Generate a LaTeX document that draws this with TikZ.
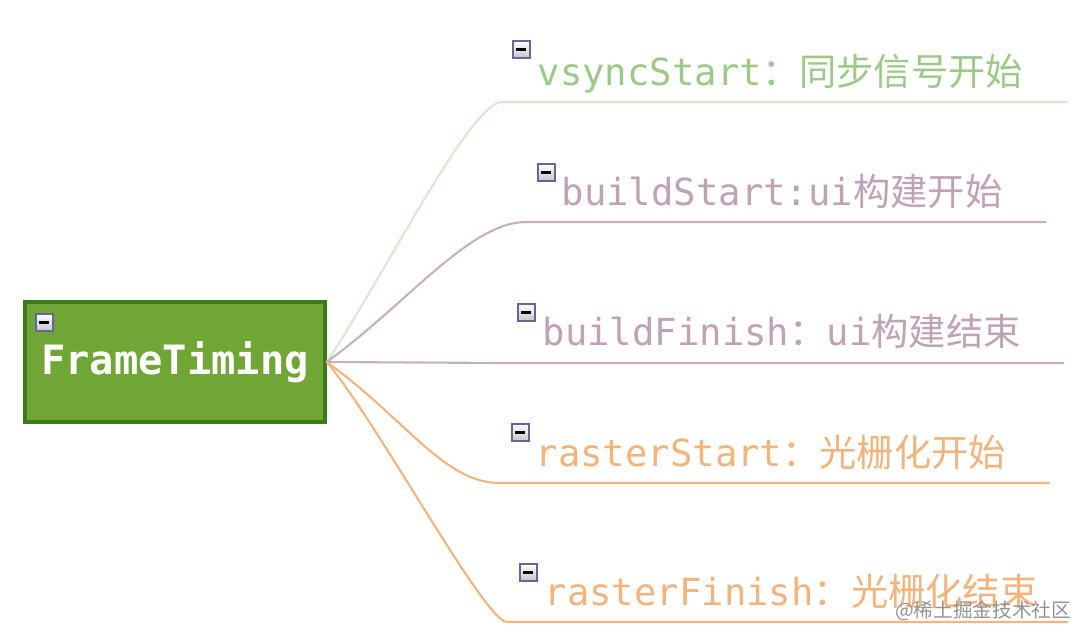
\documentclass[tikz,border=0pt]{standalone}
\usepackage{fontspec}
\setmonofont{DejaVu Sans Mono}
\newfontfamily\cjk{Noto Sans CJK SC}
\usepackage{xcolor}
\usepackage{tikz}

\definecolor{rootfill}{HTML}{6FA636}
\definecolor{rootline}{HTML}{3D7A1E}
\definecolor{greentext}{HTML}{9CC987}
\definecolor{greenline}{HTML}{D8E7D0}
\definecolor{mauvetext}{HTML}{BFA2B5}
\definecolor{mauveline}{HTML}{C7AFBE}
\definecolor{orangetext}{HTML}{F2B47C}
\definecolor{orangeline}{HTML}{F4B57D}

\tikzset{
  rootbox/.style={draw=rootline, line width=1pt, fill=rootfill, minimum width=3cm,
    minimum height=1.2cm, text=white, font=\fontsize{11.5}{13}\selectfont\ttfamily\bfseries},
  leaf/.style={anchor=base west, inner sep=0pt, font=\fontsize{10.6}{12}\selectfont\ttfamily},
  fold/.style={draw=gray!80!blue, line width=0.5pt, top color=white, bottom color=gray!45,
    minimum size=0.17cm, inner sep=0pt, anchor=north west,
    path picture={\draw[black, line width=0.8pt] ([xshift=0.035cm]path picture bounding box.west)
      -- ([xshift=-0.035cm]path picture bounding box.east);}},
  branch/.style={line width=0.6pt}
}

\begin{document}
\begin{tikzpicture}
    \useasboundingbox (0,0) rectangle (10.92,-6.4);

    \node[rootbox] (root) at (1.75, -3.62) {FrameTiming};
    \node[fold] (rootfold) at (0.35, -3.13) {};

    \node[leaf, text=greentext] (vsync) at (5.37, -0.85) {vsyncStart{\cjk：同步信号开始}};
    \node[leaf, text=mauvetext] (bstart) at (5.61, -2.05) {buildStart:ui{\cjk 构建开始}};
    \node[leaf, text=mauvetext] (bfinish) at (5.42, -3.45) {buildFinish{\cjk：}ui{\cjk 构建结束}};
    \node[leaf, text=orangetext] (rstart) at (5.35, -4.66) {rasterStart{\cjk：光栅化开始}};
    \node[leaf, text=orangetext] (rfinish) at (5.44, -6.05) {rasterFinish{\cjk：光栅化结束}};

    \node[fold] (vsyncfold) at (5.12, -0.40) {};
    \node[fold] (bstartfold) at (5.37, -1.63) {};
    \node[fold] (bfinishfold) at (5.17, -3.03) {};
    \node[fold] (rstartfold) at (5.11, -4.23) {};
    \node[fold] (rfinishfold) at (5.19, -5.63) {};

    \coordinate (vsync-l) at (5.02, -1.02);
    \coordinate (vsync-r) at (10.68, -1.02);
    \coordinate (bstart-l) at (5.26, -2.22);
    \coordinate (bstart-r) at (10.46, -2.22);
    \coordinate (bfinish-l) at (5.06, -3.63);
    \coordinate (bfinish-r) at (10.64, -3.63);
    \coordinate (rstart-l) at (5.00, -4.83);
    \coordinate (rstart-r) at (10.50, -4.83);
    \coordinate (rfinish-l) at (5.07, -6.22);
    \coordinate (rfinish-r) at (10.68, -6.22);

    \draw[branch, greenline] (root.east) .. controls +(56:0.95) and +(-0.32,0) .. (vsync-l) -- (vsync-r);
    \draw[branch, mauveline] (root.east) .. controls +(36:1.0) and +(-0.56,0) .. (bstart-l) -- (bstart-r);
    \draw[branch, mauveline] (root.east) -- (bfinish-l) -- (bfinish-r);
    \draw[branch, orangeline] (root.east) .. controls +(-36:1.0) and +(-0.56,0) .. (rstart-l) -- (rstart-r);
    \draw[branch, orangeline] (root.east) .. controls +(-50:0.8) and +(-0.22,0) .. (rfinish-l) -- (rfinish-r);

    \node[anchor=base east, inner sep=0pt, text=gray!85, font=\cjk\fontsize{5.6}{6}\selectfont] (mark) at (10.72, -6.17) {@稀土掘金技术社区};
  \end{tikzpicture}
\end{document}
